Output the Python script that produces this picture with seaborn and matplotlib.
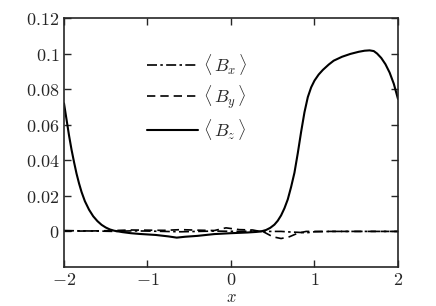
import numpy as np
import pandas as pd
import seaborn as sns
import matplotlib.pyplot as plt

# values
x_bz = [-2.0, -1.97, -1.94, -1.91, -1.88, -1.85, -1.82, -1.79, -1.75, -1.7, -1.65, -1.6,
        -1.55, -1.5, -1.45, -1.4, -1.3, -1.2, -1.1, -0.9, -0.75, -0.65, -0.55, -0.4,
        -0.2, 0.0, 0.2, 0.3, 0.36, 0.42, 0.47, 0.52, 0.56, 0.6, 0.64, 0.68, 0.72, 0.76,
        0.8, 0.84, 0.88, 0.92, 0.96, 1.0, 1.05, 1.1, 1.17, 1.23, 1.33, 1.43, 1.53, 1.6,
        1.66, 1.71, 1.75, 1.8, 1.85, 1.9, 1.95, 2.0]
bz = [0.072, 0.063, 0.054, 0.046, 0.039, 0.0325, 0.027, 0.0222, 0.017, 0.0122, 0.0085,
      0.0058, 0.0037, 0.0022, 0.0011, 0.0004, -0.0004, -0.001, -0.0014, -0.002, -0.0028,
      -0.0035, -0.003, -0.0025, -0.0015, -0.001, -0.0006, -0.0003, 0.0, 0.0008, 0.002,
      0.0038, 0.006, 0.009, 0.013, 0.018, 0.025, 0.033, 0.044, 0.056, 0.067, 0.0755,
      0.081, 0.0848, 0.0882, 0.0908, 0.0938, 0.096, 0.0982, 0.0998, 0.101, 0.1016,
      0.1018, 0.1014, 0.1, 0.0975, 0.094, 0.0893, 0.083, 0.0745]

x_b = [-2.0, -1.8, -1.6, -1.4, -1.2, -1.0, -0.8, -0.6, -0.4, -0.2, -0.06, 0.1, 0.26,
       0.4, 0.5, 0.6, 0.7, 0.8, 0.9, 1.0, 1.2, 1.4, 1.6, 1.8, 2.0]
bx = [0.0005, 0.0003, 0.0002, 0.0, 0.0003, 0.0002, 0.0, -0.0002, 0.0, 0.0002, 0.0001,
      0.0, 0.0002, 0.0, 0.0, 0.0, -0.0003, -0.0005, -0.0008, -0.0002, 0.0, 0.0, 0.0, 0.0, 0.0]
by = [0.0003, 0.0002, 0.0003, 0.0005, 0.0008, 0.0007, 0.0006, 0.001, 0.0007, 0.0005, 0.002,
      0.001, 0.0008, -0.0005, -0.003, -0.004, -0.003, -0.001, 0.0, 0.0, 0.0, 0.0, 0.0, 0.0, 0.0]

labels = [r'$\langle\, B_x\, \rangle$', r'$\langle\, B_y\, \rangle$', r'$\langle\, B_z\, \rangle$']

sns.set_style('ticks')
plt.rcParams['mathtext.fontset'] = 'cm'
plt.rcParams['font.family'] = ['DejaVu Serif']

fig = plt.figure(figsize=(4.36, 3.06), dpi=100)
ax = fig.add_axes([0.1468, 0.1275, 0.766, 0.8137])

sns.lineplot(x=x_b, y=bx, ax=ax, color='black', linestyle=(0, (6, 2, 1.5, 2)), lw=1.2,
             label=labels[0])
sns.lineplot(x=x_b, y=by, ax=ax, color='black', linestyle=(0, (5, 3)), lw=1.2,
             label=labels[1])
sns.lineplot(x=x_bz, y=bz, ax=ax, color='black', linestyle='-', lw=1.5,
             label=labels[2])

ax.set_xlim(-2, 2)
ax.set_ylim(-0.02, 0.12)
xt = [-2, -1, 0, 1, 2]
yt = [0, 0.02, 0.04, 0.06, 0.08, 0.1, 0.12]
ax.set_xticks(xt)
ax.set_xticklabels([r'$-2$', r'$-1$', r'$0$', r'$1$', r'$2$'], fontsize=13)
ax.set_yticks(yt)
ax.set_yticklabels([r'$0$', r'$0.02$', r'$0.04$', r'$0.06$', r'$0.08$', r'$0.1$', r'$0.12$'],
                   fontsize=13)
ax.tick_params(direction='in', top=True, right=True, length=5, width=1)
ax.tick_params(axis='x', pad=3)
for s in ax.spines.values():
    s.set_linewidth(1.2)
ax.set_xlabel(r'$x$', fontsize=12, labelpad=0)
ax.set_ylabel('')

leg = ax.legend(loc='upper left', bbox_to_anchor=(0.2, 0.93), frameon=False,
                fontsize=13, handlelength=2.8, labelspacing=0.35, handletextpad=0.3)

fig.savefig('out.png', dpi=100)
